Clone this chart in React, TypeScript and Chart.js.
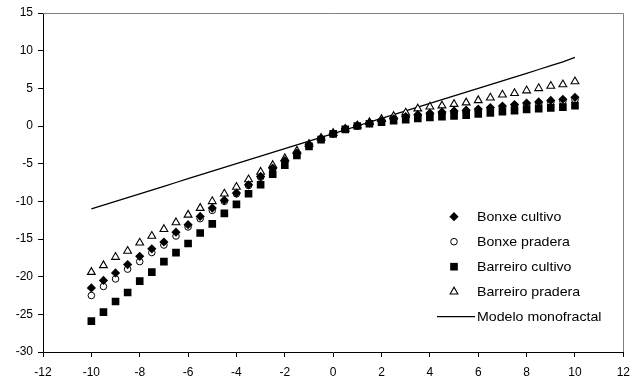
import React, { useEffect, useRef } from 'react';
import { Chart, registerables } from 'chart.js';

Chart.register(...registerables);

const qValues = [
  -10, -9.5, -9, -8.5, -8, -7.5, -7, -6.5, -6, -5.5, -5, -4.5, -4, -3.5, -3, -2.5, -2, -1.5, -1, -0.5,
  0, 0.5, 1, 1.5, 2, 2.5, 3, 3.5, 4, 4.5, 5, 5.5, 6, 6.5, 7, 7.5, 8, 8.5, 9, 9.5, 10,
];

const bonxeCultivo = [
  -21.5, -20.5, -19.5, -18.4, -17.3, -16.3, -15.4, -14.1, -13.1, -12.0, -10.9, -9.85, -8.9, -7.8, -6.7, -5.6, -4.6, -3.6, -2.5, -1.7,
  -1.0, -0.35, 0.05, 0.4, 0.7, 0.95, 1.25, 1.5, 1.7, 1.85, 2.0, 2.1, 2.25, 2.45, 2.65, 2.85, 3.05, 3.2, 3.4, 3.55, 3.8,
];

const bonxePradera = [
  -22.5, -21.3, -20.3, -19.0, -18.0, -16.8, -15.8, -14.6, -13.4, -12.3, -11.2, -10.0, -9.0, -7.9, -6.8, -5.7, -4.7, -3.7, -2.6, -1.7,
  -1.0, -0.4, 0.0, 0.35, 0.65, 0.9, 1.15, 1.35, 1.55, 1.7, 1.85, 1.95, 2.1, 2.3, 2.45, 2.65, 2.85, 3.0, 3.15, 3.3, 3.5,
];

const barreiroCultivo = [
  -25.9, -24.7, -23.3, -22.1, -20.6, -19.4, -18.0, -16.8, -15.6, -14.2, -13.0, -11.6, -10.4, -9.0, -7.8, -6.4, -5.2, -3.9, -2.7, -1.8,
  -1.05, -0.45, 0.0, 0.3, 0.5, 0.7, 0.85, 1.0, 1.15, 1.25, 1.35, 1.45, 1.6, 1.75, 1.9, 2.05, 2.2, 2.3, 2.4, 2.5, 2.7,
];

const barreiroPradera = [
  -19.4, -18.5, -17.4, -16.6, -15.5, -14.6, -13.7, -12.8, -11.8, -10.9, -10.0, -9.0, -8.1, -7.1, -6.1, -5.2, -4.3, -3.3, -2.4, -1.6,
  -0.95, -0.4, 0.05, 0.5, 0.9, 1.3, 1.75, 2.3, 2.55, 2.7, 2.9, 3.1, 3.4, 3.75, 4.15, 4.35, 4.7, 5.0, 5.3, 5.5, 5.9,
];

const modeloMonofractal = [
  -11, -10.5, -10, -9.5, -9, -8.5, -8, -7.5, -7, -6.5, -6, -5.5, -5, -4.5, -4, -3.5, -3, -2.5, -2, -1.5,
  -1, -0.5, 0, 0.5, 1, 1.5, 2, 2.5, 3, 3.5, 4, 4.5, 5, 5.5, 6, 6.5, 7, 7.5, 8, 8.5, 9.1,
];

const seriesLabels = ['Bonxe cultivo', 'Bonxe pradera', 'Barreiro cultivo', 'Barreiro pradera', 'Modelo monofractal'];

const xMin = -12;
const xMax = 12;
const xStep = 2;
const yMin = -30;
const yMax = 15;
const yStep = 5;

const FONT = '"Liberation Sans", Arial, Helvetica, sans-serif';

function drawMarker(ctx: CanvasRenderingContext2D, style: string, x: number, y: number, r: number, fill: string, stroke: string, bw: number) {
  ctx.save();
  ctx.beginPath();
  if (style === 'rectRot') {
    ctx.moveTo(x - r, y);
    ctx.lineTo(x, y - r);
    ctx.lineTo(x + r, y);
    ctx.lineTo(x, y + r);
    ctx.closePath();
  } else if (style === 'rect') {
    const s = Math.SQRT1_2 * r;
    ctx.rect(x - s, y - s, 2 * s, 2 * s);
  } else if (style === 'circle') {
    ctx.arc(x, y, r, 0, Math.PI * 2);
  } else if (style === 'triangle') {
    const h = (r * 3) / Math.sqrt(3);
    const hh = (h * Math.sqrt(3)) / 2;
    ctx.moveTo(x - h / 2, y + hh / 3);
    ctx.lineTo(x, y - (2 * hh) / 3);
    ctx.lineTo(x + h / 2, y + hh / 3);
    ctx.closePath();
  }
  ctx.fillStyle = fill;
  ctx.fill();
  if (bw > 0) {
    ctx.lineWidth = bw;
    ctx.strokeStyle = stroke;
    ctx.stroke();
  }
  ctx.restore();
}

const framePlugin = {
  id: 'frameAndLegend',
  afterDraw(chart: any) {
    const { ctx, chartArea } = chart;
    const { left, top, right, bottom } = chartArea;
    ctx.save();
    ctx.strokeStyle = '#808080';
    ctx.lineWidth = 1;
    ctx.beginPath();
    ctx.moveTo(left, Math.round(top) + 0.5);
    ctx.lineTo(Math.round(right) + 0.5, Math.round(top) + 0.5);
    ctx.lineTo(Math.round(right) + 0.5, bottom);
    ctx.stroke();

    // legend
    const markerX = 454;
    const textX = 477;
    const startY = 216.7;
    const rowH = 25;
    const stretch = 1.09;
    ctx.font = `13px ${FONT}`;
    ctx.textBaseline = 'middle';
    ctx.textAlign = 'left';
    chart.data.datasets.forEach((ds: any, i: number) => {
      const y = startY + i * rowH;
      if (ds.showLine) {
        ctx.beginPath();
        ctx.strokeStyle = '#000';
        ctx.lineWidth = 1.3;
        ctx.moveTo(437, y);
        ctx.lineTo(475, y);
        ctx.stroke();
      } else {
        drawMarker(ctx, ds.pointStyle, markerX, y, ds.pointRadius, ds.pointBackgroundColor, ds.pointBorderColor, ds.pointBorderWidth);
      }
      ctx.save();
      ctx.translate(textX, y + 0.5);
      ctx.scale(stretch, 1);
      ctx.fillStyle = '#000';
      ctx.fillText(ds.label, 0, 0);
      ctx.restore();
    });
    ctx.restore();
  },
};

export default function App() {
  const ref = useRef<HTMLCanvasElement>(null);

  useEffect(() => {
    document.body.style.margin = '0';
    const canvas = ref.current;
    if (!canvas) return;
    const mk = (vals: number[]) => qValues.map((x, i) => ({ x, y: vals[i] }));

    const chart = new Chart(canvas, {
      type: 'scatter',
      data: {
        datasets: [
          {
            label: seriesLabels[0],
            data: mk(bonxeCultivo),
            pointStyle: 'rectRot',
            pointRadius: 4.6,
            pointBackgroundColor: '#000',
            pointBorderColor: '#000',
            pointBorderWidth: 0,
            order: 1,
          } as any,
          {
            label: seriesLabels[1],
            data: mk(bonxePradera),
            pointStyle: 'circle',
            pointRadius: 3.3,
            pointBackgroundColor: '#fff',
            pointBorderColor: '#000',
            pointBorderWidth: 1,
            order: 3,
          } as any,
          {
            label: seriesLabels[2],
            data: mk(barreiroCultivo),
            pointStyle: 'rect',
            pointRadius: 5.4,
            pointBackgroundColor: '#000',
            pointBorderColor: '#000',
            pointBorderWidth: 0,
            order: 2,
          } as any,
          {
            label: seriesLabels[3],
            data: mk(barreiroPradera),
            pointStyle: 'triangle',
            pointRadius: 4.5,
            pointBackgroundColor: '#fff',
            pointBorderColor: '#000',
            pointBorderWidth: 1.1,
            order: 4,
          } as any,
          {
            label: seriesLabels[4],
            data: mk(modeloMonofractal),
            showLine: true,
            pointRadius: 0,
            borderColor: '#000',
            borderWidth: 1.3,
            backgroundColor: '#000',
            fill: false,
            order: 5,
          } as any,
        ],
      },
      options: {
        animation: false,
        responsive: false,
        maintainAspectRatio: false,
        devicePixelRatio: 1,
        layout: { padding: { top: 13, right: 9, left: 0, bottom: 0 } },
        plugins: {
          legend: { display: false },
          tooltip: { enabled: false },
          title: { display: false },
        },
        scales: {
          x: {
            type: 'linear',
            min: xMin,
            max: xMax,
            ticks: {
              stepSize: xStep,
              color: '#000',
              font: { family: FONT, size: 12 },
              padding: 8,
              maxRotation: 0,
            },
            grid: { drawOnChartArea: false, drawTicks: true, tickLength: 5, color: '#000', lineWidth: 1 },
            border: { display: true, color: '#000', width: 1 },
            afterFit: (s: any) => { s.height = 31; },
          },
          y: {
            type: 'linear',
            min: yMin,
            max: yMax,
            ticks: {
              stepSize: yStep,
              color: '#000',
              font: { family: FONT, size: 12 },
              padding: 5,
            },
            grid: { drawOnChartArea: false, drawTicks: true, tickLength: 5, color: '#000', lineWidth: 1 },
            border: { display: true, color: '#000', width: 1 },
            afterFit: (s: any) => { s.width = 43; },
          },
        },
      },
      plugins: [framePlugin],
    });

    return () => chart.destroy();
  }, []);

  return (
    <div style={{ width: 638, height: 383, background: '#fff' }}>
      <canvas ref={ref} width={638} height={383} style={{ display: 'block', width: 638, height: 383 }} />
    </div>
  );
}
